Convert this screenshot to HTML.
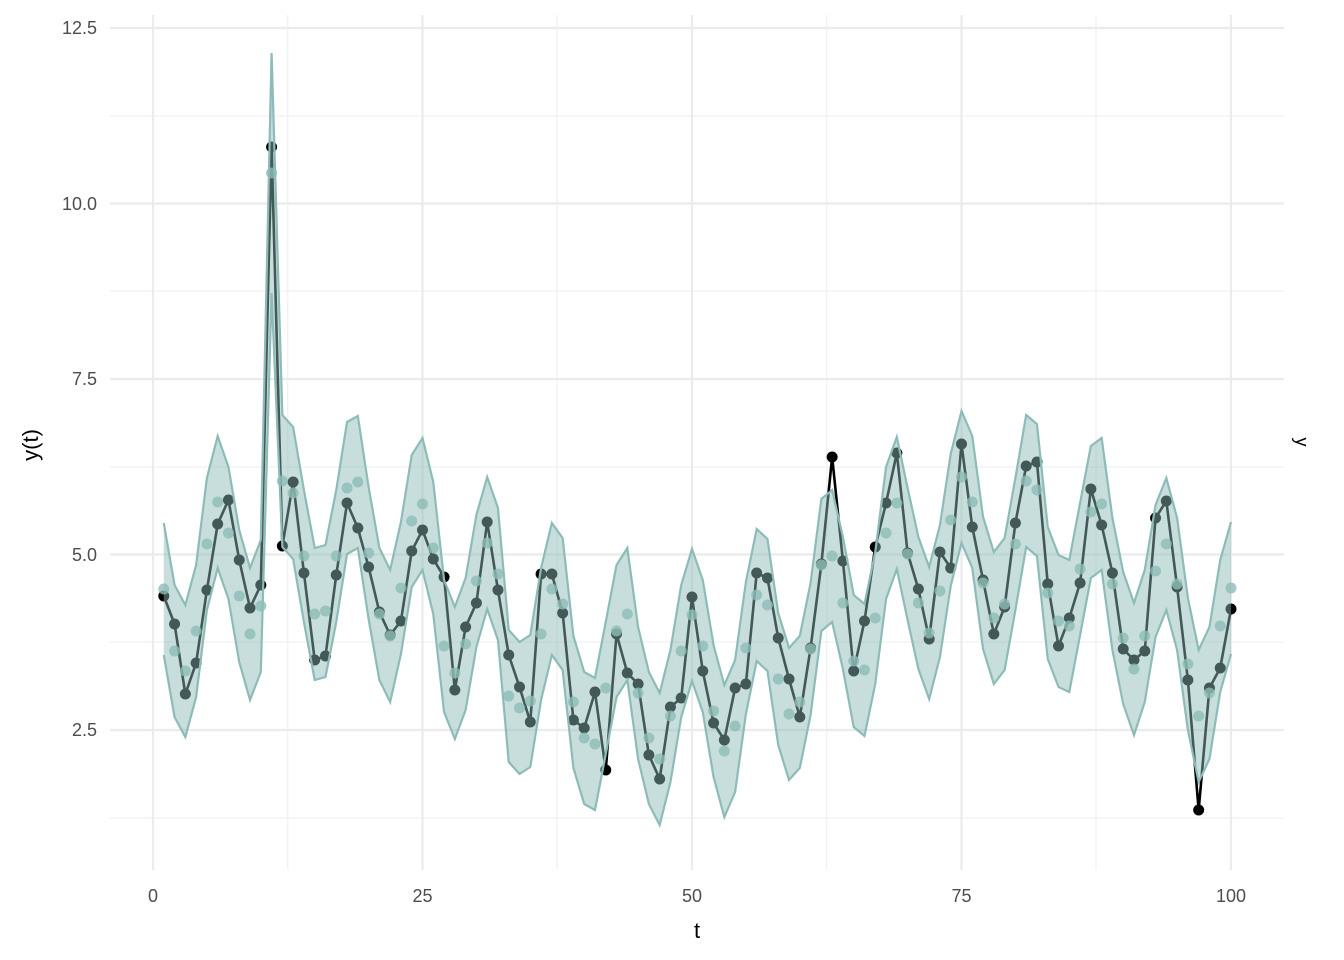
<!DOCTYPE html>
<html><head><meta charset="utf-8"><style>
body{margin:0;background:#fff}
svg{display:block}
text{font-family:"Liberation Sans",sans-serif}
</style></head><body>
<svg id="s" width="1344" height="960" xmlns="http://www.w3.org/2000/svg">
<rect width="1344" height="960" fill="#fff"/>
<g id="grid"></g>
<g id="data"></g>
<g fill="#4d4d4d" font-size="18" text-anchor="end">
<text x="97" y="736">2.5</text>
<text x="97" y="561">5.0</text>
<text x="97" y="385">7.5</text>
<text x="97" y="210">10.0</text>
<text x="97" y="34">12.5</text>
</g>
<g fill="#4d4d4d" font-size="18" text-anchor="middle">
<text x="153" y="902">0</text>
<text x="422.5" y="902">25</text>
<text x="692" y="902">50</text>
<text x="961.5" y="902">75</text>
<text x="1231" y="902">100</text>
</g>
<text x="697" y="938" font-size="22" text-anchor="middle" fill="#000">t</text>
<text transform="translate(38,445) rotate(-90)" font-size="22" text-anchor="middle" fill="#000">y(t)</text>
<text transform="translate(1296,442) rotate(90)" font-size="18" text-anchor="middle" fill="#000">y</text>
</svg>
<script>
const NS="http://www.w3.org/2000/svg";
function el(p,t,a){const e=document.createElementNS(NS,t);for(const k in a)e.setAttribute(k,a[k]);p.appendChild(e);return e;}
const g=document.getElementById('grid');
[818,642,467,291,116].forEach(y=>el(g,'line',{x1:110,x2:1284,y1:y,y2:y,stroke:'#f0f0f0','stroke-width':1.2}));
[287.75,557,826.75,1096].forEach(x=>el(g,'line',{x1:x,x2:x,y1:15,y2:870,stroke:'#f0f0f0','stroke-width':1.2}));
[730,554.5,379,203.5,28].forEach(y=>el(g,'line',{x1:110,x2:1284,y1:y,y2:y,stroke:'#ebebeb','stroke-width':2.2}));
[153,422.5,692,961.5,1231].forEach(x=>el(g,'line',{x1:x,x2:x,y1:15,y2:870,stroke:'#ebebeb','stroke-width':2.2}));
const obs=[596,624,694,663,590,524,500,560,608,585,147,546,482,573,660,656,575,503,528,567,612,635,621,551,530,559,577,690,627,603,522,590,655,687,722,574,574,613,720,728,692,770,634,673,684,755,779,707,698,597,671,723,740,688,684,573,578,638,679,717,648,564,457,561,671,621,547,503,453,553,589,639,552,568,444,527,580,634,607,523,466,462,584,646,618,583,489,525,573,649,660,651,518,501,587,680,810,688,668,609];
const up=[523,585,605,565,478,436,467,530,568,540,53,415,427,490,548,545,490,422,416,487,548,570,522,455,438,482,580,607,578,515,477,508,630,642,635,568,523,538,636,672,678,622,565,548,627,672,693,650,585,549,580,645,685,660,582,529,539,613,648,636,583,499,490,537,595,604,552,467,437,488,537,567,525,454,411,436,517,552,538,478,415,424,527,555,560,503,446,438,518,572,603,570,505,478,518,598,650,627,560,522];
const X=t=>153+10.78*t;
const w=up.map((u,i)=>i==10?240:132);
const lo=up.map((u,i)=>u+w[i]);
const fit=up.map((u,i)=>u+w[i]/2);
const d=document.getElementById('data');
let pts=obs.map((y,i)=>X(i+1)+','+y).join(' ');
el(d,'polyline',{points:pts,fill:'none',stroke:'#000','stroke-width':2.6});
obs.forEach((y,i)=>el(d,'circle',{cx:X(i+1),cy:y,r:5.5,fill:'#000'}));
let poly=up.map((y,i)=>X(i+1)+','+y).concat(lo.map((y,i)=>X(i+1)+','+y).reverse()).join(' ');
el(d,'polygon',{points:poly,fill:'rgb(140,186,182)','fill-opacity':0.48,stroke:'none'});
el(d,'polyline',{points:up.map((y,i)=>X(i+1)+','+y).join(' '),fill:'none',stroke:'#8dbcb8','stroke-width':2.2});
el(d,'polyline',{points:lo.map((y,i)=>X(i+1)+','+y).join(' '),fill:'none',stroke:'#8dbcb8','stroke-width':2.2});
fit.forEach((y,i)=>el(d,'circle',{cx:X(i+1),cy:y,r:5.5,fill:'#8dbcb8','fill-opacity':0.8}));
</script>
</body></html>
